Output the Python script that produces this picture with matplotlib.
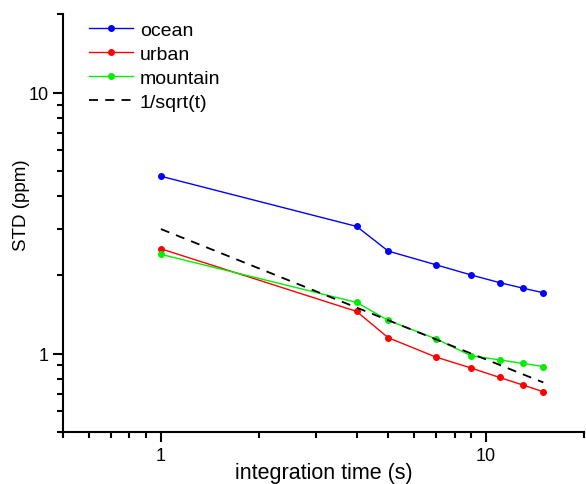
import matplotlib
matplotlib.use("Agg")
import matplotlib.pyplot as plt
from matplotlib.ticker import LogLocator, NullFormatter, FixedLocator, FixedFormatter

plt.rcParams['font.family'] = ['Liberation Sans', 'DejaVu Sans']

# integration times (s)
t = [1, 4, 5, 7, 9, 11, 13, 15]

ocean = [4.78, 3.07, 2.47, 2.19, 2.00, 1.87, 1.78, 1.71]
urban = [2.52, 1.45, 1.15, 0.97, 0.88, 0.81, 0.757, 0.714]
mountain = [2.40, 1.57, 1.34, 1.14, 0.98, 0.946, 0.916, 0.892]
ref_sqrt = [3.0, 1.5, 1.342, 1.134, 1.0, 0.905, 0.832, 0.775]

fig = plt.figure(figsize=(5.86, 4.85), dpi=100)
ax = fig.add_axes([0.1075, 0.107, 0.889, 0.862])

ax.plot(t, ocean, '-o', color='#0000ff', lw=1, ms=4, label='ocean')
ax.plot(t, urban, '-o', color='#ff0000', lw=1, ms=4, label='urban')
ax.plot(t, mountain, '-o', color='#00ee00', lw=1, ms=4, label='mountain')
ax.plot(t, ref_sqrt, '--', color='black', lw=1.3, dashes=(5, 4), label='1/sqrt(t)')

ax.set_xscale('log')
ax.set_yscale('log')
ax.set_xlim(0.5, 20)
ax.set_ylim(0.5, 20)

for a in (ax.xaxis, ax.yaxis):
    a.set_major_locator(FixedLocator([1, 10]))
    a.set_major_formatter(FixedFormatter(['1', '10']))
    a.set_minor_locator(LogLocator(base=10, subs=range(2, 10)))
    a.set_minor_formatter(NullFormatter())

ax.spines['top'].set_visible(False)
ax.spines['right'].set_visible(False)
ax.spines['left'].set_linewidth(1.5)
ax.spines['bottom'].set_linewidth(1.5)
ax.tick_params(which='major', direction='out', length=7, width=1.5, labelsize=13)
ax.tick_params(which='minor', direction='out', length=4, width=1.5)

ax.set_xlabel('integration time (s)', fontsize=15.5, labelpad=-1.5)
ax.set_ylabel('STD (ppm)', fontsize=13.5)
ax.yaxis.set_label_coords(-0.063, 0.545)

ax.legend(loc='upper left', bbox_to_anchor=(0.05, 0.982), frameon=False, fontsize=14,
          handlelength=2.27, handletextpad=0.35, labelspacing=0.33,
          borderpad=0, borderaxespad=0)

fig.savefig('out.png', dpi=100)
